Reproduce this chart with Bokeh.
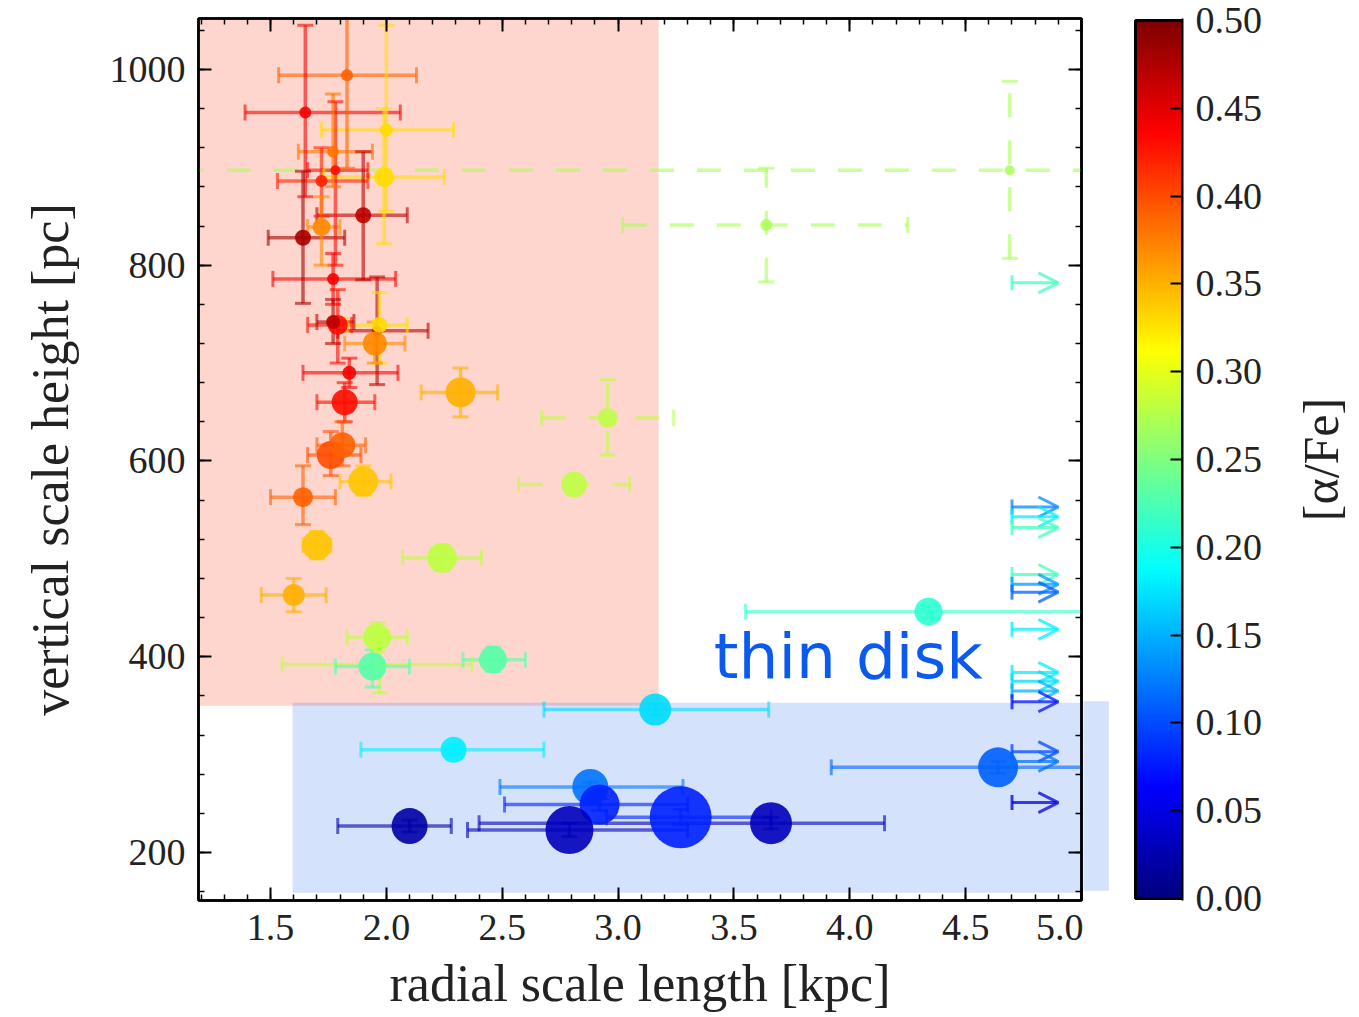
import numpy as np
from bokeh.plotting import figure
from bokeh.models import (Range1d, LinearAxis, ColumnDataSource, Arrow, OpenHead, Label,
                          SingleIntervalTicker, FixedTicker, NumeralTickFormatter, LinearColorMapper,
                          CustomJSTickFormatter)
from bokeh.core.properties import value
from bokeh.layouts import row
from bokeh.transform import linear_cmap
from bokeh.embed import file_html
from bokeh.resources import INLINE

# ------------------------------------------------------------------ data
# solid-error-bar populations
rs     = [1.83, 1.65, 2.00, 1.99, 1.78, 1.72, 1.64, 1.90, 1.72, 1.77, 1.77, 1.79, 1.77, 1.96, 1.97, 1.95,
          1.84, 1.82, 2.32, 1.76, 1.81, 1.90, 1.64, 1.70, 1.60, 2.24, 1.96, 1.97, 1.94, 2.46,
          4.34, 3.16, 2.29, 2.88, 2.92, 2.10, 2.79, 3.27, 3.66, 4.64]
hz     = [994, 956, 938, 890, 897, 886, 828, 851, 839, 916, 786, 739, 742, 733, 739, 720,
          690, 660, 670, 606, 616, 579, 563, 514, 463, 501, 420, 392, 390, 397,
          446, 346, 305, 267, 249, 227, 223, 236, 230, 287]
rs_lo  = [1.535, 1.39, 1.72, 1.73, 1.66, 1.53, 1.49, 1.70, 1.66, 1.62, 1.51, 1.66, 1.70, 1.79, 1.83, 1.82,
          1.64, 1.70, 2.15, 1.66, 1.70, 1.80, 1.50, 1.64, 1.46, 2.07, 1.83, 1.55, 1.78, 2.33,
          3.55, 2.68, 1.89, 2.49, 2.51, 1.79, 2.35, 2.95, 2.40, 3.92]
rs_hi  = [2.13, 2.06, 2.29, 2.25, 1.92, 1.92, 1.82, 2.09, 1.80, 1.94, 2.04, 1.85, 1.86, 2.18, 2.09, 2.08,
          2.05, 1.95, 2.48, 1.89, 1.91, 2.02, 1.78, 1.76, 1.74, 2.41, 2.09, 2.37, 2.10, 2.60,
          5.60, 3.65, 2.68, 3.28, 3.30, 2.28, 3.30, 3.66, 4.15, 5.60]
hz_lo  = [899, 870, 855, 822, 800, 850, 761, 785, 800, 880, 760, 700, 720, 678, 700, 700,
          675, 640, 645, 585, 595, 565, 535, 500, 446, 488, 405, 363, 369, 385,
          440, 340, 300, 262, 243, 221, 216, 228, 224, 281]
hz_hi  = [1090, 1045, 1045, 960, 967, 920, 896, 916, 870, 975, 812, 775, 765, 788, 772, 742,
          705, 680, 695, 630, 640, 595, 595, 528, 480, 514, 435, 425, 407, 410,
          452, 352, 310, 272, 255, 233, 230, 244, 236, 293]
afe    = [0.39, 0.44, 0.33, 0.33, 0.43, 0.42, 0.48, 0.47, 0.37, 0.38, 0.44, 0.43, 0.47, 0.47, 0.33, 0.37,
          0.44, 0.43, 0.35, 0.40, 0.39, 0.34, 0.39, 0.34, 0.35, 0.28, 0.28, 0.28, 0.23, 0.23,
          0.21, 0.17, 0.18, 0.12, 0.08, 0.02, 0.03, 0.08, 0.03, 0.11]
npop   = [12, 12, 13, 20, 10, 12, 16, 16, 18, 12, 12, 20, 14, 10, 16, 24,
          14, 26, 30, 28, 26, 30, 20, 30, 22, 30, 28, 14, 28, 28,
          28, 32, 26, 36, 40, 36, 48, 62, 42, 40]

# dashed-error-bar populations
rs_d    = [2.955, 2.81, 3.64, 4.69]
hz_d    = [644, 576, 841, 897]
rs_d_lo = [2.67, 2.57, 3.02, 0.50]
rs_d_hi = [3.24, 3.05, 4.25, 6.50]
hz_d_lo = [606, 568, 783, 807]
hz_d_hi = [683, 584, 899, 988]
afe_d   = [0.28, 0.28, 0.27, 0.27]
npop_d  = [20, 26, 12, 10]

# lower limits on the scale length
lim_rs  = [4.70] * 15
lim_hz  = [782, 553, 543, 532, 484, 474, 466, 428, 384, 375, 365, 354, 303, 293, 251]
lim_afe = [0.22, 0.13, 0.18, 0.22, 0.22, 0.14, 0.11, 0.18, 0.18, 0.17, 0.15, 0.07, 0.10, 0.12, 0.05]

# shaded regions  (left, right, bottom, top)
thick_box = (1.0, 3.175, 350, 1100)
thin_box  = (1.595, 5.118, 159, 353)

cb_ticks = [0.00, 0.05, 0.10, 0.15, 0.20, 0.25, 0.30, 0.35, 0.40, 0.45, 0.50]
cb_title = "[α/Fe]"

# ------------------------------------------------------------------ styles
SERIF = "Liberation Serif"
TXT = "#222222"
tt = np.linspace(0, 1, 256)
def _ch(c):
    return np.clip(1.5 - np.abs(4 * tt - c), 0, 1)
JET = ["#%02x%02x%02x" % (int(r * 255), int(g * 255), int(b * 255))
       for r, g, b in zip(_ch(3), _ch(2), _ch(1))]
cmap = linear_cmap("afe", JET, 0.0, 0.5)

X0, X1 = 1.189, 5.0
Y0, Y1 = 151, 1052

p = figure(width=1083, height=1017, x_range=Range1d(X0, X1), y_range=Range1d(Y0, Y1),
           output_backend="svg", toolbar_location=None,
           min_border_left=198, min_border_right=2, min_border_top=18, min_border_bottom=117)
p.grid.visible = False
p.outline_line_color = "black"
p.outline_line_width = 2.5
p.background_fill_color = "white"
p.border_fill_color = "white"

bottom_ax = p.below[0]
left_ax = p.left[0]
bottom_ax.ticker = SingleIntervalTicker(interval=0.5, num_minor_ticks=5)
left_ax.ticker = SingleIntervalTicker(interval=200, num_minor_ticks=5)
bottom_ax.formatter = NumeralTickFormatter(format="0.0")
bottom_ax.axis_label = "radial scale length [kpc]"
left_ax.axis_label = "vertical scale height [pc]"
blank = CustomJSTickFormatter(code="return ''")
top_ax = LinearAxis(ticker=SingleIntervalTicker(interval=0.5, num_minor_ticks=5), formatter=blank)
right_ax = LinearAxis(ticker=SingleIntervalTicker(interval=200, num_minor_ticks=5), formatter=blank)
p.add_layout(top_ax, "above")
p.add_layout(right_ax, "right")

def style_axis(ax, labels=True):
    ax.major_tick_in = 13
    ax.major_tick_out = 0
    ax.minor_tick_in = 6
    ax.minor_tick_out = 0
    ax.major_tick_line_width = 2
    ax.minor_tick_line_width = 1.5
    ax.axis_line_width = 2.5
    if labels:
        ax.major_label_text_font = SERIF
        ax.major_label_text_font_size = "38px"
        ax.major_label_text_color = TXT
        ax.axis_label_text_font = SERIF
        ax.axis_label_text_font_size = "52px"
        ax.axis_label_text_font_style = "normal"
        ax.axis_label_text_color = TXT
    else:
        ax.major_label_text_font_size = "1px"
        ax.major_label_standoff = 0

style_axis(bottom_ax); style_axis(left_ax)
style_axis(top_ax, False); style_axis(right_ax, False)
bottom_ax.major_label_standoff = 14
bottom_ax.axis_label_standoff = 12
left_ax.major_label_standoff = 13
left_ax.axis_label_standoff = 28

# shaded regions
p.quad(left=[thick_box[0]], right=[thick_box[1]], bottom=[thick_box[2]], top=[thick_box[3]],
       fill_color="#ff5a3c", fill_alpha=0.25, line_color=None)
p.quad(left=[thin_box[0]], right=[thin_box[1]], bottom=[thin_box[2]], top=[thin_box[3]],
       fill_color="#2b6fec", fill_alpha=0.2, line_color=None)

# dashed error bars
sd = ColumnDataSource(dict(x=rs_d, y=hz_d, xl=rs_d_lo, xh=rs_d_hi, yl=hz_d_lo, yh=hz_d_hi,
                           afe=afe_d, s=npop_d))
p.segment(x0="xl", x1="xh", y0="y", y1="y", source=sd, line_color=cmap, line_width=3.5,
          line_alpha=0.6, line_dash="24 23")
p.segment(x0="x", x1="x", y0="yl", y1="yh", source=sd, line_color=cmap, line_width=3.5,
          line_alpha=0.6, line_dash="24 23")
p.scatter(x="xl", y="y", source=sd, marker="dash", angle=np.pi / 2, size=16, line_color=cmap,
          line_width=3, line_alpha=0.6)
p.scatter(x="xh", y="y", source=sd, marker="dash", angle=np.pi / 2, size=16, line_color=cmap,
          line_width=3, line_alpha=0.6)
p.scatter(x="x", y="yl", source=sd, marker="dash", size=16, line_color=cmap, line_width=3, line_alpha=0.6)
p.scatter(x="x", y="yh", source=sd, marker="dash", size=16, line_color=cmap, line_width=3, line_alpha=0.6)
p.scatter(x="x", y="y", source=sd, size="s", fill_color=cmap, line_color=None, fill_alpha=0.85)

# solid error bars and points
ss = ColumnDataSource(dict(x=rs, y=hz, xl=rs_lo, xh=rs_hi, yl=hz_lo, yh=hz_hi, afe=afe, s=npop))
p.segment(x0="xl", x1="xh", y0="y", y1="y", source=ss, line_color=cmap, line_width=3.5, line_alpha=0.6)
p.segment(x0="x", x1="x", y0="yl", y1="yh", source=ss, line_color=cmap, line_width=3.5, line_alpha=0.6)
p.scatter(x="xl", y="y", source=ss, marker="dash", angle=np.pi / 2, size=16, line_color=cmap,
          line_width=3, line_alpha=0.6)
p.scatter(x="xh", y="y", source=ss, marker="dash", angle=np.pi / 2, size=16, line_color=cmap,
          line_width=3, line_alpha=0.6)
p.scatter(x="x", y="yl", source=ss, marker="dash", size=16, line_color=cmap, line_width=3, line_alpha=0.6)
p.scatter(x="x", y="yh", source=ss, marker="dash", size=16, line_color=cmap, line_width=3, line_alpha=0.6)
p.scatter(x="x", y="y", source=ss, size="s", fill_color=cmap, line_color=None, fill_alpha=0.9)

# lower limits
ARROW_LEN = 0.20
sl = ColumnDataSource(dict(x=lim_rs, y=lim_hz, afe=lim_afe))
p.scatter(x="x", y="y", source=sl, marker="dash", angle=np.pi / 2, size=15, line_color=cmap,
          line_width=3, line_alpha=0.75)
for xv, yv, av in zip(lim_rs, lim_hz, lim_afe):
    col = JET[min(255, int(round(av / 0.5 * 255)))]
    p.add_layout(Arrow(x_start=xv, y_start=yv, x_end=xv + ARROW_LEN, y_end=yv,
                       line_color=col, line_width=3, line_alpha=0.75,
                       end=OpenHead(size=20, line_color=col, line_width=3, line_alpha=0.75)))

p.add_layout(Label(x=3.413, y=400, text="thin disk", text_font="DejaVu Sans",
                   text_font_size="63px", text_color="#0a5af0", text_baseline="alphabetic"))

# ------------------------------------------------------------------ colour bar panel
FW = 883.0     # main frame width in px
FH = 882.0     # main frame height in px
qx0 = X0 + (1083 - 198) * (X1 - X0) / FW
qx1 = X0 + (1182 - 198) * (X1 - X0) / FW
qy0 = Y0 - 2 * (Y1 - Y0) / FH

pad = 0.5 * 2 / 880.0
QW = 184
q = figure(width=QW, height=1017, x_range=Range1d(0, 99), y_range=Range1d(-pad, 0.5 + pad),
           output_backend="svg", toolbar_location=None, x_axis_location=None,
           y_axis_location="right", min_border_left=0, min_border_right=QW - 99,
           min_border_top=18, min_border_bottom=115)
q.grid.visible = False
q.outline_line_color = None
q.background_fill_color = "white"
q.border_fill_color = "white"
q.extra_x_ranges = {"main": Range1d(qx0, qx1)}
q.extra_y_ranges = {"main": Range1d(qy0, Y1)}
q.quad(left=[thin_box[0]], right=[thin_box[1]], bottom=[thin_box[2]], top=[thin_box[3]],
       fill_color="#2b6fec", fill_alpha=0.2, line_color=None, x_range_name="main", y_range_name="main")

grad = np.linspace(0, 0.5, 256).reshape(256, 1)
q.image(image=[grad], x=52, y=0, dw=47, dh=0.5,
        color_mapper=LinearColorMapper(palette=JET, low=0, high=0.5))
q.quad(left=[52], right=[99], bottom=[0], top=[0.5], fill_color=None, line_color="black", line_width=3)

cax = q.yaxis[0]
cax.ticker = FixedTicker(ticks=cb_ticks, minor_ticks=[])
cax.formatter = NumeralTickFormatter(format="0.00")
cax.major_tick_in = 12
cax.major_tick_out = 0
cax.minor_tick_in = 0
cax.minor_tick_out = 0
cax.major_tick_line_width = 2
cax.axis_line_width = 2
cax.major_label_text_font = SERIF
cax.major_label_text_font_size = "38px"
cax.major_label_text_color = TXT
cax.major_label_standoff = 13

# ------------------------------------------------------------------ colour-bar title panel
RW = 1359 - 1083 - QW
r = figure(width=RW, height=1017, x_range=Range1d(0, RW), y_range=Range1d(-pad, 0.5 + pad),
           output_backend="svg", toolbar_location=None, x_axis_location=None, y_axis_location=None,
           min_border_left=0, min_border_right=0, min_border_top=18, min_border_bottom=115)
r.grid.visible = False
r.outline_line_color = None
r.background_fill_color = "white"
r.border_fill_color = "white"
r.text(x=[1320 - 1083 - QW], y=[0.25], text=[cb_title], angle=np.pi / 2,
       text_align="center", text_baseline="middle", text_font=value(SERIF),
       text_font_size="50px", text_color=TXT)

layout = row(p, q, r)
open("out.html", "w").write(file_html(layout, INLINE))
